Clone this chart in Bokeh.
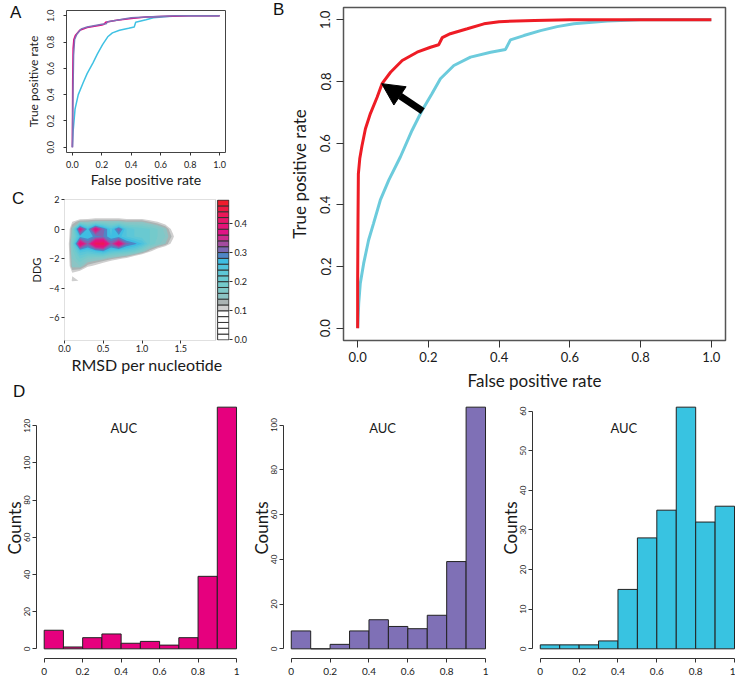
import numpy as np
from bokeh.plotting import figure
from bokeh.layouts import row, column
from bokeh.models import (FixedTicker, CustomJSTickFormatter, Label, Arrow, NormalHead,
                          Range1d, LinearAxis, BoxAnnotation, Div)
from bokeh.embed import file_html
from bokeh.resources import INLINE

# ---------------- data ----------------
# Panel A: ROC curves (false positive rate, true positive rate)
a_magenta_fpr = [0, 0.002, 0.005, 0.01, 0.02, 0.05, 0.1, 0.15, 0.2, 0.215, 0.225, 0.3, 0.4, 0.5, 0.6, 0.8, 1.0]
a_magenta_tpr = [0, 0.5, 0.75, 0.82, 0.85, 0.89, 0.91, 0.92, 0.93, 0.935, 0.95, 0.965, 0.98, 0.99, 0.995, 1.0, 1.0]
a_purple_fpr = [0, 0.004, 0.008, 0.015, 0.03, 0.06, 0.1, 0.2, 0.23, 0.24, 0.3, 0.4, 0.5, 0.7, 1.0]
a_purple_tpr = [0, 0.4, 0.7, 0.82, 0.86, 0.9, 0.915, 0.935, 0.94, 0.955, 0.965, 0.985, 0.99, 1.0, 1.0]
a_cyan_fpr = [0, 0.005, 0.018, 0.04, 0.073, 0.1, 0.139, 0.17, 0.205, 0.24, 0.272, 0.32, 0.382, 0.42, 0.43, 0.5, 0.55, 0.65, 0.75, 1.0]
a_cyan_tpr = [0, 0.12, 0.29, 0.4, 0.49, 0.56, 0.64, 0.71, 0.78, 0.84, 0.87, 0.89, 0.905, 0.915, 0.95, 0.97, 0.985, 0.995, 1.0, 1.0]

# Panel B: ROC curves
b_red_fpr = [0, 0.0, 0.001, 0.002, 0.006, 0.012, 0.022, 0.036, 0.055, 0.069, 0.093, 0.126, 0.168, 0.206,
             0.229, 0.239, 0.262, 0.31, 0.357, 0.4, 0.5, 0.6, 1.0]
b_red_tpr = [0, 0.15, 0.35, 0.5, 0.55, 0.59, 0.647, 0.696, 0.749, 0.793, 0.83, 0.868, 0.895, 0.911,
             0.919, 0.942, 0.955, 0.971, 0.987, 0.994, 0.998, 1.0, 1.0]
b_cyan_fpr = [0, 0.003, 0.0075, 0.017, 0.031, 0.045, 0.064, 0.088, 0.121, 0.154, 0.182, 0.21, 0.234, 0.272,
              0.319, 0.376, 0.418, 0.432, 0.47, 0.517, 0.564, 0.611, 0.706, 0.8, 1.0]
b_cyan_tpr = [0, 0.08, 0.146, 0.21, 0.286, 0.34, 0.415, 0.48, 0.556, 0.642, 0.706, 0.76, 0.809, 0.852,
              0.879, 0.895, 0.904, 0.935, 0.949, 0.965, 0.978, 0.987, 0.996, 1.0, 1.0]
arrow_from = (0.184, 0.704)
arrow_to = (0.068, 0.793)

# Panel C: density of DDG vs RMSD per nucleotide (grid)
c_rmsd = [0.0, 0.1, 0.2, 0.3, 0.4, 0.5, 0.6, 0.7, 0.8, 0.9, 1.0, 1.1, 1.2, 1.3, 1.4, 1.5, 1.6]
c_ddg = [-4.0, -3.5, -3.0, -2.5, -2.0, -1.5, -1.0, -0.5, 0.0, 0.5, 1.0]
c_density = [
    [0, 0, 0, 0, 0, 0, 0, 0, 0, 0, 0, 0, 0, 0, 0, 0, 0],
    [0, 0.108, 0.098, 0, 0, 0, 0, 0, 0, 0, 0, 0, 0, 0, 0, 0, 0],
    [0, 0.095, 0.07, 0.02, 0, 0, 0, 0, 0, 0, 0, 0, 0, 0, 0, 0, 0],
    [0, 0.15, 0.16, 0.11, 0.09, 0.06, 0.03, 0, 0, 0, 0, 0, 0, 0, 0, 0, 0],
    [0, 0.16, 0.2, 0.17, 0.16, 0.15, 0.13, 0.11, 0.09, 0.05, 0.02, 0, 0, 0, 0, 0, 0],
    [0, 0.17, 0.25, 0.24, 0.26, 0.28, 0.24, 0.23, 0.22, 0.2, 0.16, 0.11, 0.06, 0.02, 0, 0, 0],
    [0, 0.18, 0.41, 0.32, 0.43, 0.44, 0.32, 0.40, 0.31, 0.29, 0.26, 0.2, 0.17, 0.14, 0.08, 0, 0],
    [0, 0.16, 0.27, 0.26, 0.29, 0.30, 0.26, 0.27, 0.24, 0.22, 0.21, 0.2, 0.18, 0.16, 0.11, 0.02, 0],
    [0, 0.15, 0.38, 0.27, 0.39, 0.31, 0.25, 0.32, 0.24, 0.22, 0.21, 0.2, 0.18, 0.15, 0.08, 0, 0],
    [0, 0.1, 0.14, 0.14, 0.15, 0.15, 0.15, 0.15, 0.14, 0.14, 0.14, 0.12, 0.1, 0.07, 0.02, 0, 0],
    [0, 0, 0.02, 0.03, 0.04, 0.04, 0.04, 0.04, 0.03, 0.03, 0.03, 0.02, 0.02, 0.01, 0, 0, 0],
]
key_levels = [0.0, 0.02, 0.04, 0.06, 0.08, 0.10, 0.12, 0.14, 0.16, 0.18, 0.20, 0.22, 0.24,
              0.26, 0.28, 0.30, 0.32, 0.34, 0.36, 0.38, 0.40, 0.42, 0.44, 0.46, 0.48]
key_colors = ["#ffffff", "#ffffff", "#ffffff", "#ffffff", "#ffffff",
              "#cfcfcf", "#aab3b3", "#8cc4c4", "#80c8c8", "#74cacb", "#69c9d1", "#5dc7d7", "#50c3dc",
              "#3ebde2", "#4f86c6", "#7c68b2", "#a44c9f", "#cc2b8f", "#e01486", "#e61479",
              "#e9166a", "#eb1858", "#ec1a43", "#ee1c2c"]
key_ticks = [0.0, 0.1, 0.2, 0.3, 0.4]

# Panel D: AUC histograms
auc_edges = [0.0, 0.1, 0.2, 0.3, 0.4, 0.5, 0.6, 0.7, 0.8, 0.9, 1.0]
d1_counts = [10, 1, 6, 8, 3, 4, 2, 6, 39, 130]
d2_counts = [8, 0, 2, 8, 13, 10, 9, 15, 39, 108]
d3_counts = [1, 1, 1, 2, 15, 28, 35, 61, 32, 36]
d1_yticks = [0, 20, 40, 60, 80, 100, 120]
d2_yticks = [0, 20, 40, 60, 80, 100]
d3_yticks = [0, 10, 20, 30, 40, 50, 60]
auc_ticks = [0.0, 0.2, 0.4, 0.6, 0.8, 1.0]
rate_ticks = [0.0, 0.2, 0.4, 0.6, 0.8, 1.0]

# ---------------- styling ----------------
FONT = "Lato"
TXT = "#1a1a1a"
AX = "#333333"
MAGENTA = "#e6007e"
PURPLE = "#7f70b6"
CYAN_A = "#3fc1e3"
CYAN_D = "#38c3e1"
RED_B = "#ee1c25"
CYAN_B = "#6ccbdc"

FMT1 = "return tick.toFixed(1);"
FMT0 = "return tick.toFixed(0);"
FMT_D = "return (Math.abs(tick) < 1e-9 || Math.abs(tick - 1) < 1e-9) ? tick.toFixed(0) : tick.toFixed(1);"
FMT_MINUS = "return (tick < 0 ? '\u2212' : '') + Math.abs(tick).toFixed(0);"

LETTER_CSS = ("font-family:'Liberation Sans',Arial,Helvetica,sans-serif;font-size:17px;"
              "line-height:17px;color:#111111;margin:0;")


def make_fig(width, height, xr, yr, left, right, top, bottom, **kw):
    p = figure(width=width, height=height, x_range=xr, y_range=yr,
               output_backend="svg", toolbar_location=None,
               min_border_left=left, min_border_right=right,
               min_border_top=top, min_border_bottom=bottom, **kw)
    p.xgrid.visible = False
    p.ygrid.visible = False
    p.background_fill_color = "white"
    p.border_fill_color = "white"
    p.outline_line_color = None
    return p


def set_axis(ax, ticks, code, size, label=None, label_size="12px", tick_out=4,
             standoff=2, label_standoff=2, orientation="horizontal", bounds=None, line=False):
    ax.ticker = FixedTicker(ticks=ticks)
    ax.formatter = CustomJSTickFormatter(code=code)
    ax.major_label_text_font = FONT
    ax.major_label_text_font_size = size
    ax.major_label_text_color = TXT
    ax.major_label_standoff = standoff
    ax.major_label_orientation = orientation
    ax.major_tick_in = 0
    ax.major_tick_out = tick_out
    ax.major_tick_line_color = AX
    ax.minor_tick_line_color = None
    ax.axis_label = label
    ax.axis_label_text_font = FONT
    ax.axis_label_text_font_size = label_size
    ax.axis_label_text_font_style = "normal"
    ax.axis_label_text_color = TXT
    ax.axis_label_standoff = label_standoff
    if line:
        ax.axis_line_color = AX
        ax.axis_line_width = 1
        if bounds is not None:
            ax.bounds = bounds
    else:
        ax.axis_line_color = None


def letter_div(width, height, letters):
    # letters: (text, left offset px, top margin px)
    html = "".join(
        f'<div style="{LETTER_CSS}padding-left:{lx}px;margin-top:{ty}px;">{t}</div>'
        for t, lx, ty in letters)
    return Div(text=html, width=width, height=height, margin=0,
               styles={"overflow": "visible"})


# ---------------- Panel A ----------------
la = letter_div(22, 190, [("A", 10, 4)])
pa = make_fig(228, 190, (-0.04, 1.04), (-0.04, 1.04), 41, 25, 10, 37)
pa.outline_line_color = "#444444"
pa.line(a_cyan_fpr, a_cyan_tpr, line_color=CYAN_A, line_width=1.5)
pa.line(a_magenta_fpr, a_magenta_tpr, line_color=MAGENTA, line_width=1.5)
pa.line(a_purple_fpr, a_purple_tpr, line_color=PURPLE, line_width=1.5)
set_axis(pa.xaxis[0], rate_ticks, FMT1, "9px", "False positive rate", "14px", 3, 5, 0)
set_axis(pa.yaxis[0], rate_ticks, FMT1, "9px", "True positive rate", "12px", 3, 9, 4, "parallel")
lb = letter_div(34, 190, [("B", 23, 1)])

# ---------------- Panel C ----------------
lc = letter_div(27, 207, [("C", 12, 0), ("D", 13, 176)])
c_box_right = 1.95
key_left = 1.975
key_right = 2.12
pc = make_fig(257, 207, (0.0, 2.128), (-7.55, 2.0), 36, 55, 9, 57)
for i in range(5, len(key_colors)):
    pc.contour(x=c_rmsd, y=c_ddg, z=np.array(c_density), levels=[key_levels[i], 1.0],
               fill_color=[key_colors[i]])
pc.add_layout(BoxAnnotation(left=0.0, right=c_box_right, bottom=-7.55, top=2.0,
                            fill_color=None, line_color="#333333", line_width=1))
pc.extra_y_ranges = {"key": Range1d(-0.002, 0.482)}
pc.quad(left=key_left, right=key_right, bottom=key_levels[:-1], top=key_levels[1:],
        fill_color=key_colors, line_color="#333333", line_width=1, y_range_name="key")
set_axis(pc.xaxis[0], [0.0, 0.5, 1.0, 1.5], FMT1, "9px", "RMSD per nucleotide", "16px", 3, 1, 0)
set_axis(pc.yaxis[0], [2, 0, -2, -4, -6], FMT_MINUS, "9px", "DDG", "11px", 3, 2, 3)
key_axis = LinearAxis(y_range_name="key")
set_axis(key_axis, key_ticks, FMT1, "9px", None, "9px", 3, 2, 0)
pc.add_layout(key_axis, "right")

# ---------------- Panel B ----------------
pb = make_fig(451, 397, (-0.04, 1.04), (-0.04, 1.04), 59, 10, 7, 57)
pb.outline_line_color = "#555555"
pb.outline_line_width = 1.5
pb.line(b_cyan_fpr, b_cyan_tpr, line_color=CYAN_B, line_width=3)
pb.line(b_red_fpr, b_red_tpr, line_color=RED_B, line_width=3)
pb.add_layout(Arrow(end=NormalHead(size=22, fill_color="black", line_color="black"),
                    x_start=arrow_from[0], y_start=arrow_from[1], x_end=arrow_to[0], y_end=arrow_to[1],
                    line_color="black", line_width=7))
set_axis(pb.xaxis[0], rate_ticks, FMT1, "13px", "False positive rate", "17px", 7, 4, 5)
set_axis(pb.yaxis[0], rate_ticks, FMT1, "13px", "True positive rate", "17px", 7, 6, 8, "parallel")


# ---------------- Panel D ----------------
def hist(width, left, right, counts, yticks, color, auc_pos):
    ymax = max(counts)
    p = make_fig(width, 282, (-0.04, 1.005), (-0.04 * ymax, 1.04 * ymax), left, right, 0, 21)
    p.quad(left=auc_edges[:-1], right=auc_edges[1:], bottom=0, top=counts,
           fill_color=color, line_color="#222222", line_width=1)
    set_axis(p.xaxis[0], auc_ticks, FMT_D, "10px", None, "10px", 4, 5, 0,
             bounds=(0, 1), line=True)
    set_axis(p.yaxis[0], yticks, FMT0, "8px", "Counts", "17px", 4, 2, -3, "parallel",
             bounds=(yticks[0], yticks[-1]), line=True)
    p.add_layout(Label(x=auc_pos[0], y=auc_pos[1], text="AUC", text_font=FONT, text_font_size="13px",
                       text_color=TXT, text_align="center", text_baseline="middle"))
    return p


pd1 = hist(247, 33, 10, d1_counts, d1_yticks, MAGENTA, (0.414, 119))
pd2 = hist(249, 35, 10, d2_counts, d2_yticks, PURPLE, (0.47, 98.8))
pd3 = hist(239, 35, 0, d3_counts, d3_yticks, CYAN_D, (0.43, 55.8))

layout = column(
    row(column(row(la, pa, lb), row(lc, pc)), pb),
    row(pd1, pd2, pd3),
)

open("out.html", "w").write(file_html(layout, INLINE))
